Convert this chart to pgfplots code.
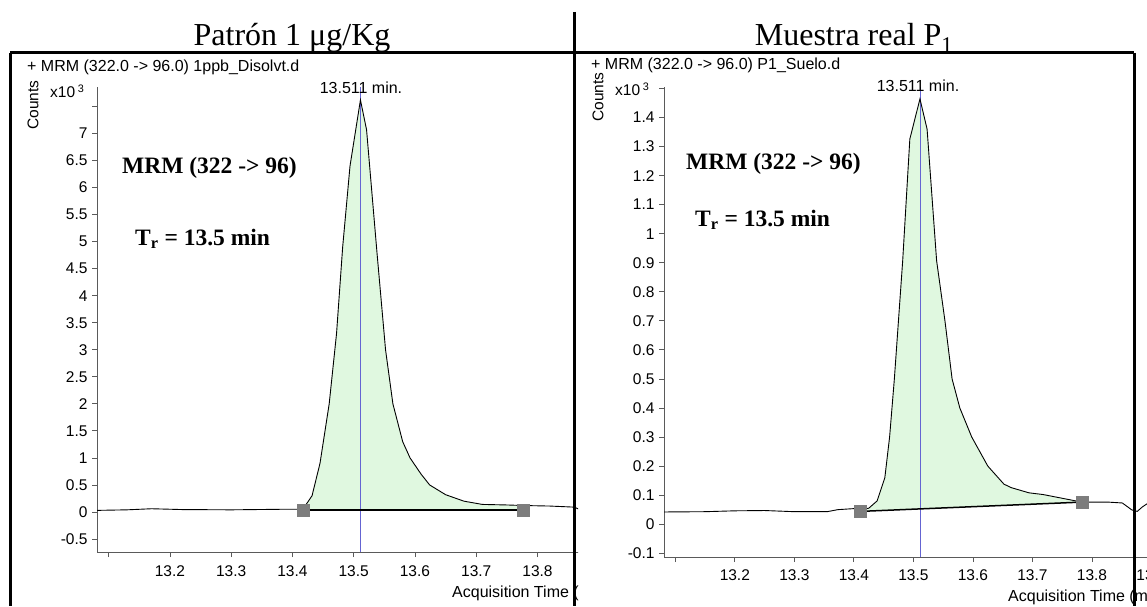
\documentclass[border=0pt]{standalone}
\usepackage{fontspec}
\setmainfont{Liberation Serif}
\newfontfamily\arial{Liberation Sans}
\usepackage{pgfplots}
\pgfplotsset{compat=1.18}
\definecolor{peakfill}{RGB}{224,248,224}
\definecolor{rtline}{RGB}{100,100,210}
\definecolor{mk}{RGB}{125,125,125}
\definecolor{axgray}{RGB}{90,90,90}
\newcommand{\fs}[1]{\fontsize{#1}{#1}\selectfont}
\pgfplotsset{
  msaxis/.style={
    scale only axis, axis x line=bottom, axis y line=left,
    axis line style={-,axgray,line width=1pt},
    tick align=outside, major tick length=5pt,
    tick style={axgray,line width=0.8pt},
    tick label style={font=\arial\fs{15.5}},
    yticklabel style={xshift=-1pt},
    xmin=13.081, xmax=14.0,
    xtick={13.1,13.2,13.3,13.4,13.5,13.6,13.7,13.8,13.9},
    xticklabels={,13.2,13.3,13.4,13.5,13.6,13.7,13.8,13.9},
  },
}
\begin{document}
\begin{tikzpicture}[x=1pt,y=1pt]
\useasboundingbox (0,0) rectangle (1147,606);

% ---------- left panel: standard 1 ug/Kg
\begin{scope}
\clip (0,0) rectangle (578,606);
\begin{axis}[msaxis, at={(97pt,54pt)}, anchor=south west,
  width=563pt, height=465pt, ymin=-0.74, ymax=7.86,
  xticklabel style={yshift=-5pt},
  ytick={-0.5,0,0.5,1,1.5,2,2.5,3,3.5,4,4.5,5,5.5,6,6.5,7,7.5},
  yticklabels={-0.5,0,0.5,1,1.5,2,2.5,3,3.5,4,4.5,5,5.5,6,6.5,7,}]
  \addplot[draw=none, fill=peakfill] coordinates {
    (13.417,0.05)(13.432,0.30)(13.445,0.9)(13.46,2.0)(13.472,3.3)(13.482,4.9)
    (13.494,6.4)(13.511,7.62)(13.521,7.07)(13.538,4.8)(13.552,3.0)(13.564,2.0)
    (13.58,1.3)(13.592,1.0)(13.61,0.7)(13.624,0.5)(13.65,0.32)(13.68,0.2)
    (13.71,0.14)(13.75,0.13)(13.776,0.12)(13.776,0.04)(13.417,0.04)};
  \addplot[rtline, line width=0.8pt] coordinates {(13.511,-0.74)(13.511,7.86)};
  \addplot[only marks, mark=square*, mark size=6pt, mk] coordinates {(13.417,0.04)(13.776,0.04)};
  \addplot[black, line width=0.9pt] coordinates {
    (13.081,0.03)(13.13,0.04)(13.17,0.06)(13.22,0.045)(13.30,0.04)(13.38,0.05)
    (13.417,0.05)(13.432,0.30)(13.445,0.9)(13.46,2.0)(13.472,3.3)(13.482,4.9)
    (13.494,6.4)(13.511,7.62)(13.521,7.07)(13.538,4.8)(13.552,3.0)(13.564,2.0)
    (13.58,1.3)(13.592,1.0)(13.61,0.7)(13.624,0.5)(13.65,0.32)(13.68,0.2)
    (13.71,0.14)(13.75,0.13)(13.776,0.12)(13.82,0.11)(13.86,0.09)(13.87,0.04)
    (13.9,0.04)(14.0,0.05)};
  \addplot[black, line width=1.5pt] coordinates {(13.417,0.04)(13.776,0.04)};
\end{axis}
\node[anchor=base west, font=\arial\fs{16}, inner sep=0pt] at (452,9) {Acquisition Time (min)};
\end{scope}

% ---------- right panel: real sample P1
\begin{scope}
\clip (578,0) rectangle (1147,606);
\begin{axis}[msaxis, at={(664pt,49pt)}, anchor=south west,
  width=547pt, height=470pt, ymin=-0.113, ymax=1.505,
  xticklabel style={yshift=-4pt},
  ytick={-0.1,0,0.1,0.2,0.3,0.4,0.5,0.6,0.7,0.8,0.9,1,1.1,1.2,1.3,1.4,1.5},
  yticklabels={-0.1,0,0.1,0.2,0.3,0.4,0.5,0.6,0.7,0.8,0.9,1,1.1,1.2,1.3,1.4,}]
  \addplot[draw=none, fill=peakfill] coordinates {
    (13.411,0.05)(13.425,0.055)(13.439,0.08)(13.452,0.16)(13.46,0.3)(13.468,0.5)
    (13.482,0.907)(13.494,1.326)(13.511,1.464)(13.523,1.36)(13.539,0.907)
    (13.553,0.7)(13.565,0.5)(13.578,0.4)(13.598,0.3)(13.625,0.2)(13.652,0.138)
    (13.664,0.126)(13.694,0.108)(13.718,0.102)(13.748,0.09)(13.783,0.076)
    (13.411,0.044)};
  \addplot[rtline, line width=0.8pt] coordinates {(13.511,-0.113)(13.511,1.505)};
  \addplot[only marks, mark=square*, mark size=6pt, mk] coordinates {(13.411,0.044)(13.783,0.076)};
  \addplot[black, line width=0.9pt] coordinates {
    (13.081,0.042)(13.15,0.043)(13.20,0.046)(13.25,0.047)(13.30,0.043)(13.355,0.043)
    (13.373,0.05)(13.403,0.054)(13.411,0.05)(13.425,0.055)(13.439,0.08)(13.452,0.16)
    (13.46,0.3)(13.468,0.5)(13.482,0.907)(13.494,1.326)(13.511,1.464)(13.523,1.36)
    (13.539,0.907)(13.553,0.7)(13.565,0.5)(13.578,0.4)(13.598,0.3)(13.625,0.2)
    (13.652,0.138)(13.664,0.126)(13.694,0.108)(13.718,0.102)(13.748,0.09)
    (13.783,0.076)(13.827,0.076)(13.851,0.073)(13.867,0.049)(13.876,0.044)
    (13.885,0.06)(13.9,0.08)(13.95,0.1)};
  \addplot[black, line width=1.5pt] coordinates {(13.411,0.044)(13.783,0.076)};
\end{axis}
\node[anchor=base west, font=\arial\fs{16}, inner sep=0pt] at (1008,5) {Acquisition Time (min)};
\end{scope}

% ---------- panel texts
\node[anchor=base, font=\fs{32}] at (292,560) {Patrón 1 μg/Kg};
\node[anchor=base, font=\fs{32}] at (854,560) {Muestra real P\textsubscript{1}};
\node[anchor=base west, font=\arial\fs{16}, inner sep=0pt] at (27,534) {+ MRM (322.0 -> 96.0) 1ppb\_Disolvt.d};
\node[anchor=base west, font=\arial\fs{16}, inner sep=0pt] at (591,536) {+ MRM (322.0 -> 96.0) P1\_Suelo.d};
\node[rotate=90, font=\arial\fs{15.5}, inner sep=0pt] at (33,501) {Counts};
\node[rotate=90, font=\arial\fs{15.5}, inner sep=0pt] at (598,509) {Counts};
\node[anchor=base west, font=\arial\fs{15.5}, inner sep=0pt] at (50,508) {x10\,\textsuperscript{3}};
\node[anchor=base west, font=\arial\fs{15.5}, inner sep=0pt] at (615,510) {x10\,\textsuperscript{3}};
\node[anchor=base, font=\arial\fs{16}, inner sep=0pt] at (361,512) {13.511 min.};
\node[anchor=base, font=\arial\fs{16}, inner sep=0pt] at (918,514) {13.511 min.};
\node[anchor=base west, font=\bfseries\fs{23.5}, inner sep=0pt] at (122,432) {MRM (322 -> 96)};
\node[anchor=base west, font=\bfseries\fs{23.5}, inner sep=0pt] at (686,436) {MRM (322 -> 96)};
\node[anchor=base west, font=\bfseries\fs{23.5}, inner sep=0pt] at (135,361) {T\textsubscript{r} = 13.5 min};
\node[anchor=base west, font=\bfseries\fs{23.5}, inner sep=0pt] at (695,380) {T\textsubscript{r} = 13.5 min};

% ---------- frame
\draw[line width=3pt] (574,594) -- (574,0);
\draw[line width=3pt] (10,553) -- (1134,553);
\draw[line width=3pt] (10,553) -- (10,0);
\draw[line width=3pt] (1134,553) -- (1134,0);
\end{tikzpicture}
\end{document}
